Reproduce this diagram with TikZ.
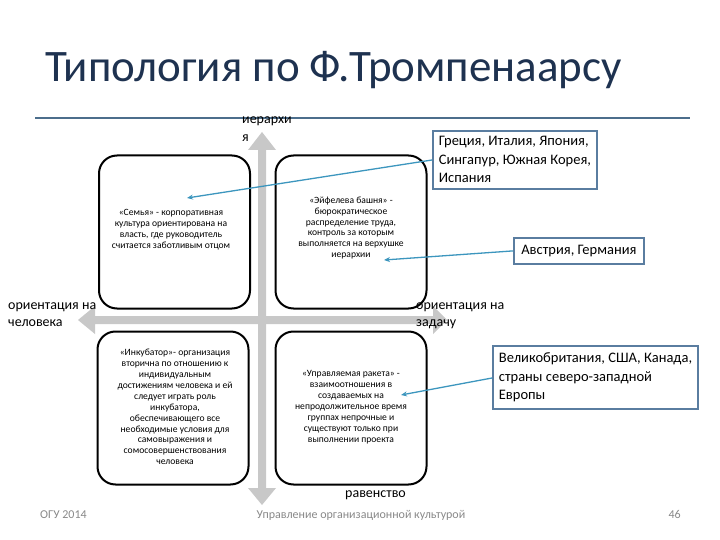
\documentclass[tikz,border=0pt]{standalone}
\usepackage{fontspec}
\setmainfont{Carlito}
\usetikzlibrary{arrows.meta}
\definecolor{titlec}{RGB}{30,50,80}
\definecolor{rulec}{RGB}{76,110,140}
\definecolor{axisc}{RGB}{200,200,200}
\definecolor{callc}{RGB}{90,125,160}
\definecolor{linkc}{RGB}{60,150,190}
\definecolor{footc}{RGB}{137,137,137}
\tikzset{
  quad/.style={draw=black,line width=2pt,rounded corners=18pt,minimum width=151pt,minimum height=153pt,inner sep=0pt},
  quadtext/.style={align=center,font=\fontsize{9.6}{10.9}\selectfont,inner sep=0pt},
  callout/.style={draw=callc,line width=1.8pt,fill=white,align=left,font=\fontsize{14.5}{18.5}\selectfont,inner xsep=6pt,inner ysep=4pt,anchor=north west},
  axislabel/.style={font=\fontsize{14}{18}\selectfont,align=left,inner sep=0pt},
  link/.style={draw=linkc,line width=1.3pt,-{Stealth[length=6pt,width=5pt]}},
  foot/.style={font=\fontsize{12}{14}\selectfont,text=footc,inner sep=0pt}
}
\begin{document}
\begin{tikzpicture}[x=1pt,y=-1pt]
\useasboundingbox (0,0) rectangle (720,540);
\fill[white] (0,0) rectangle (720,540);
% title
\node[anchor=base west,text=titlec,font=\fontsize{45}{50}\selectfont,inner sep=0pt] (title) at (45,82) {Типология по Ф.Тромпенаарсу};
\draw[rulec,line width=2pt] (35,118) -- (690,118);
% axes
\fill[axisc] (258,150) -- (248,150) -- (262,132) -- (276,150) -- (266,150) -- (266,488) -- (276,488) -- (262,505) -- (248,488) -- (258,488) -- cycle;
\fill[axisc] (95,316) -- (95,306) -- (78,320) -- (95,334) -- (95,324) -- (433,324) -- (433,334) -- (447,320) -- (433,306) -- (433,316) -- cycle;
% axis labels
\node[axislabel,anchor=base west] (hier1) at (242,124) {иерархи};
\node[axislabel,anchor=base west] (hier2) at (242,142) {я};
\node[axislabel,anchor=base west] (hum) at (8,326) {ориентация на\\[-1pt]человека};
\node[axislabel,anchor=base west] (task) at (416,326) {ориентация на\\[-1pt]задачу};
\node[axislabel,anchor=base west] (eq) at (345,497) {равенство};
% quadrants
\node[quad] (fam) at (174.5,232) {};
\node[quad] (eif) at (351,232) {};
\node[quad] (inc) at (173,408) {};
\node[quad] (rock) at (351,408) {};
\node[quadtext] (famt) at (171,230) {«Семья» - корпоративная\\культура ориентирована на\\власть, где руководитель\\считается заботливым отцом};
\node[quadtext] (eift) at (351,228) {«Эйфелева башня» -\\бюрократическое\\распределение труда,\\контроль за которым\\выполняется на верхушке\\иерархии};
\node[quadtext] (inct) at (175,407) {«Инкубатор»- организация\\вторична по отношению к\\индивидуальным\\достижениям человека и ей\\следует играть роль\\инкубатора,\\обеспечивающего все\\необходимые условия для\\самовыражения и\\сомосовершенствования\\человека};
\node[quadtext] (rockt) at (351,407) {«Управляемая ракета» -\\взаимоотношения в\\создаваемых на\\непродолжительное время\\группах непрочные и\\существуют только при\\выполнении проекта};
% callouts
\node[callout,minimum width=163pt,minimum height=58pt] (gr) at (432,130) {Греция, Италия, Япония,\\Сингапур, Южная Корея,\\Испания};
\node[callout,minimum width=130pt,minimum height=26pt] (au) at (513,237) {Австрия, Германия};
\node[callout,minimum width=201pt,minimum height=63pt] (uk) at (492,345) {Великобритания, США, Канада,\\страны северо-западной\\Европы};
\coordinate (famp) at (187,198);
\coordinate (eifp) at (384,260);
\coordinate (rockp) at (401,395);
\draw[link] (gr.west |- 0,160) -- (famp);
\draw[link] (au.west) -- (eifp);
\draw[link] (uk.west |- 0,378) -- (rockp);
% footer
\node[foot,anchor=base west] (f1) at (40,518) {ОГУ 2014};
\node[foot,anchor=base] (f2) at (361,518) {Управление организационной культурой};
\node[foot,anchor=base east] (f3) at (681,518) {46};
\end{tikzpicture}
\end{document}
